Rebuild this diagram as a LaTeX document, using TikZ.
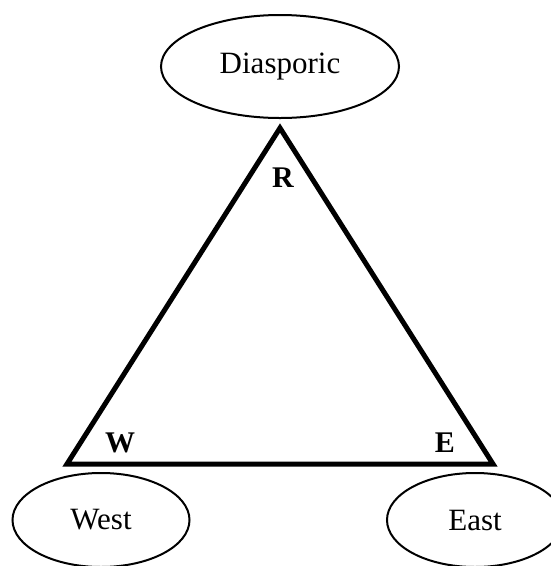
\documentclass[tikz,border=0pt]{standalone}
\usepackage{fontspec}
\setmainfont{Liberation Serif}
\usetikzlibrary{shapes.geometric}
\begin{document}
\begin{tikzpicture}[x=1pt,y=-1pt,
  oval/.style={draw,line width=2pt,ellipse,inner sep=0pt,font=\fontsize{31}{36}\selectfont},
  corner/.style={font=\bfseries\fontsize{30}{34}\selectfont,inner sep=0pt},
  tri/.style={line width=5pt,line join=miter}]
\useasboundingbox (0,0) rectangle (551,566);
\node[oval,minimum width=238pt,minimum height=103pt] (dia) at (280,66.5) {Diasporic};
\node[oval,minimum width=177pt,minimum height=94pt] (west) at (101,520) {West};
\node[oval,minimum width=176pt,minimum height=94pt] (east) at (475,520) {East};
\coordinate (r) at (280,128);
\coordinate (w) at (67,464);
\coordinate (e) at (493,464);
\draw[tri] (r) -- (w) -- (e) -- cycle;
\node[corner] (lr) at (283,178) {R};
\node[corner] (lw) at (120,443) {W};
\node[corner] (le) at (445,443) {E};
\end{tikzpicture}
\end{document}
